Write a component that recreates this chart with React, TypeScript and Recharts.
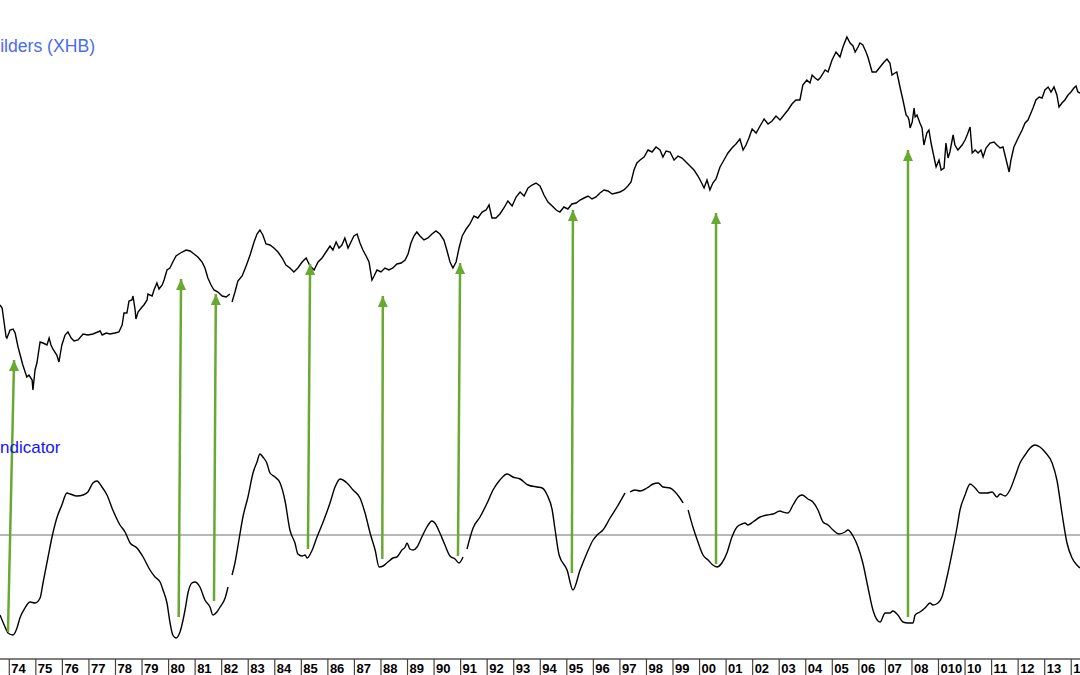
import React from 'react';
import { ComposedChart, Line, XAxis, YAxis, ReferenceLine } from 'recharts';

const YEARS = [1974,1975,1976,1977,1978,1979,1980,1981,1982,1983,1984,1985,1986,1987,1988,1989,1990,1991,1992,1993,1994,1995,1996,1997,1998,1999,2000,2001,2002,2003,2004,2005,2006,2007,2008,2009,2010,2011,2012,2013,2014];
const YEAR_LABELS = ['74','75','76','77','78','79','80','81','82','83','84','85','86','87','88','89','90','91','92','93','94','95','96','97','98','99','00','01','02','03','04','05','06','07','08','010','10','11','12','13','14'];

// Homebuilders price (arbitrary index units), [year, value]
const PRICE: [number, number | null][] = [
[1973.65,354],[1973.73,351],[1973.88,322],[1973.91,321],[1974.03,329],[1974.14,330],[1974.22,326],[1974.33,312],[1974.48,297],[1974.51,294],[1974.66,282],[1974.74,284],[1974.86,279],[1974.89,269],[1974.97,289],[1975.04,296],[1975.16,317],[1975.27,316],[1975.42,314],[1975.50,321],[1975.57,314],[1975.64,310],[1975.79,304],[1975.87,297],[1975.98,314],[1976.10,324],[1976.21,327],[1976.33,321],[1976.44,318],[1976.59,319],[1976.78,325],[1976.96,324],[1977.15,325],[1977.42,328],[1977.50,324],[1977.65,326],[1977.79,325],[1977.98,326],[1978.13,327],[1978.25,334],[1978.32,346],[1978.43,346],[1978.51,358],[1978.62,359],[1978.66,363],[1978.74,349],[1978.77,340],[1978.85,347],[1979.00,352],[1979.07,354],[1979.19,359],[1979.22,365],[1979.38,363],[1979.45,369],[1979.56,376],[1979.64,370],[1979.76,374],[1979.83,379],[1979.94,389],[1980.05,391],[1980.16,397],[1980.28,403],[1980.39,405],[1980.51,407],[1980.66,409],[1980.81,408],[1980.96,405],[1981.10,402],[1981.26,397],[1981.37,391],[1981.48,381],[1981.60,374],[1981.71,369],[1981.86,367],[1982.02,363],[1982.17,362],[1982.31,365],[1982.35,null],
[1982.39,357],[1982.50,367],[1982.61,378],[1982.77,383],[1982.92,393],[1983.07,404],[1983.22,417],[1983.33,425],[1983.44,429],[1983.55,424],[1983.67,415],[1983.82,414],[1983.97,411],[1984.12,407],[1984.28,401],[1984.42,394],[1984.57,391],[1984.72,387],[1984.87,391],[1985.03,397],[1985.18,401],[1985.33,393],[1985.48,389],[1985.63,397],[1985.78,401],[1985.93,407],[1986.08,413],[1986.19,409],[1986.31,417],[1986.42,411],[1986.53,414],[1986.64,421],[1986.76,411],[1986.87,417],[1986.98,423],[1987.10,425],[1987.21,416],[1987.32,409],[1987.44,403],[1987.55,397],[1987.66,379],[1987.74,383],[1987.85,389],[1988.00,387],[1988.15,391],[1988.30,389],[1988.45,391],[1988.60,395],[1988.76,396],[1988.91,399],[1989.02,405],[1989.13,416],[1989.24,423],[1989.35,427],[1989.47,423],[1989.62,419],[1989.77,421],[1989.92,425],[1990.07,428],[1990.22,425],[1990.37,419],[1990.48,409],[1990.60,397],[1990.71,391],[1990.83,397],[1990.94,411],[1991.06,423],[1991.21,430],[1991.35,435],[1991.50,443],[1991.65,441],[1991.81,447],[1991.96,449],[1992.07,454],[1992.18,441],[1992.33,441],[1992.48,445],[1992.63,451],[1992.78,458],[1992.94,453],[1993.09,462],[1993.24,467],[1993.39,463],[1993.54,471],[1993.69,474],[1993.84,476],[1993.99,473],[1994.14,464],[1994.29,457],[1994.45,453],[1994.60,449],[1994.74,447],[1994.89,452],[1995.04,450],[1995.19,455],[1995.35,456],[1995.50,459],[1995.65,461],[1995.80,463],[1995.95,460],[1996.10,462],[1996.25,466],[1996.40,469],[1996.55,468],[1996.71,465],[1996.86,466],[1997.00,467],[1997.15,469],[1997.30,473],[1997.42,477],[1997.53,489],[1997.64,496],[1997.76,499],[1997.91,502],[1998.06,509],[1998.21,507],[1998.36,512],[1998.51,509],[1998.62,502],[1998.74,508],[1998.89,507],[1999.04,499],[1999.19,503],[1999.34,501],[1999.49,497],[1999.64,493],[1999.79,489],[1999.94,483],[2000.06,477],[2000.17,471],[2000.28,479],[2000.39,469],[2000.50,476],[2000.62,480],[2000.77,492],[2000.92,499],[2001.07,506],[2001.22,511],[2001.37,515],[2001.52,520],[2001.64,509],[2001.75,514],[2001.86,521],[2001.98,530],[2002.13,526],[2002.28,533],[2002.43,540],[2002.58,535],[2002.73,538],[2002.88,543],[2003.03,539],[2003.18,544],[2003.33,549],[2003.48,555],[2003.63,559],[2003.78,559],[2003.89,574],[2004.04,579],[2004.16,576],[2004.24,584],[2004.35,581],[2004.46,579],[2004.54,581],[2004.73,589],[2004.84,587],[2004.99,599],[2005.14,607],[2005.29,602],[2005.40,612],[2005.55,622],[2005.67,616],[2005.78,613],[2005.86,607],[2005.97,612],[2006.04,616],[2006.15,614],[2006.27,607],[2006.34,602],[2006.50,587],[2006.65,587],[2006.80,592],[2006.95,597],[2007.06,600],[2007.17,596],[2007.25,584],[2007.36,586],[2007.43,587],[2007.55,572],[2007.66,559],[2007.78,544],[2007.85,542],[2007.89,539],[2007.93,531],[2008.01,537],[2008.08,551],[2008.12,542],[2008.19,544],[2008.30,536],[2008.38,531],[2008.45,514],[2008.56,526],[2008.64,529],[2008.72,516],[2008.83,502],[2008.91,492],[2009.02,499],[2009.10,489],[2009.21,491],[2009.28,516],[2009.36,501],[2009.43,507],[2009.55,524],[2009.62,514],[2009.73,509],[2009.89,514],[2010.00,519],[2010.08,524],[2010.19,532],[2010.27,506],[2010.38,509],[2010.49,506],[2010.60,509],[2010.68,502],[2010.79,511],[2010.94,516],[2011.09,517],[2011.20,514],[2011.32,511],[2011.43,512],[2011.55,499],[2011.66,487],[2011.73,499],[2011.84,512],[2012.00,521],[2012.15,529],[2012.26,536],[2012.37,539],[2012.45,544],[2012.56,551],[2012.67,559],[2012.79,562],[2012.90,561],[2013.01,569],[2013.13,572],[2013.24,567],[2013.35,572],[2013.46,564],[2013.54,552],[2013.65,556],[2013.76,559],[2013.88,564],[2013.99,567],[2014.10,571],[2014.18,573],[2014.25,567],[2014.33,566]
];

// Oscillator indicator, [year, value]
const INDICATOR: [number, number | null][] = [
[1973.65,-8.0],[1973.84,-9.2],[1973.95,-9.8],[1974.14,-10.0],[1974.29,-9.3],[1974.40,-8.3],[1974.59,-7.3],[1974.78,-6.7],[1974.97,-6.8],[1975.16,-6.3],[1975.27,-4.8],[1975.46,-2.2],[1975.61,-0.2],[1975.79,1.7],[1975.98,3.0],[1976.17,4.2],[1976.29,4.1],[1976.55,3.9],[1976.78,4.0],[1976.96,4.3],[1977.15,5.2],[1977.30,5.4],[1977.49,4.8],[1977.68,4.0],[1977.90,2.5],[1978.17,1.0],[1978.36,0.3],[1978.55,-0.8],[1978.81,-1.3],[1979.04,-2.2],[1979.30,-3.5],[1979.49,-4.2],[1979.68,-4.7],[1979.79,-5.5],[1979.94,-6.8],[1980.05,-8.7],[1980.16,-10.0],[1980.28,-10.3],[1980.43,-9.7],[1980.62,-7.5],[1980.73,-5.8],[1980.88,-4.8],[1980.99,-4.7],[1981.18,-5.2],[1981.37,-6.5],[1981.56,-7.2],[1981.67,-8.0],[1981.82,-7.7],[1981.94,-7.2],[1982.13,-6.3],[1982.24,-5.2],[1982.31,null],
[1982.39,-4.0],[1982.50,-2.8],[1982.65,-0.5],[1982.80,1.8],[1982.99,3.8],[1983.18,6.2],[1983.33,7.3],[1983.44,8.1],[1983.55,7.8],[1983.70,7.2],[1983.82,6.2],[1984.01,5.8],[1984.20,5.2],[1984.38,3.5],[1984.57,0.5],[1984.76,-0.8],[1984.87,-1.9],[1985.03,-2.1],[1985.14,-2.0],[1985.22,-2.3],[1985.41,-1.5],[1985.59,-0.2],[1985.82,1.3],[1986.08,3.2],[1986.27,4.8],[1986.46,5.6],[1986.72,5.2],[1986.95,4.5],[1987.21,3.7],[1987.40,2.2],[1987.59,0.2],[1987.78,-1.5],[1987.93,-3.2],[1988.08,-3.1],[1988.26,-2.7],[1988.45,-2.3],[1988.60,-2.2],[1988.79,-1.5],[1988.91,-1.2],[1988.98,-0.8],[1989.09,-1.4],[1989.21,-1.5],[1989.36,-1.2],[1989.54,-0.2],[1989.73,0.8],[1989.92,1.4],[1990.03,1.2],[1990.22,0.2],[1990.41,-1.0],[1990.60,-2.1],[1990.79,-2.4],[1990.94,-2.8],[1991.09,-2.2],[1991.15,null],
[1991.24,-1.4],[1991.47,0.7],[1991.73,1.8],[1992.00,3.2],[1992.22,4.5],[1992.48,5.5],[1992.75,6.1],[1992.97,5.8],[1993.24,5.6],[1993.54,5.0],[1993.88,4.8],[1994.07,4.7],[1994.26,4.0],[1994.45,2.5],[1994.56,0.5],[1994.71,-2.0],[1995.01,-3.5],[1995.23,-5.5],[1995.50,-3.5],[1995.76,-1.8],[1995.99,-0.5],[1996.14,0.0],[1996.36,0.5],[1996.63,1.7],[1996.89,2.8],[1997.19,4.2],[1997.28,null],
[1997.38,4.3],[1997.57,4.5],[1997.76,4.4],[1998.02,4.7],[1998.25,5.1],[1998.44,5.2],[1998.62,4.8],[1998.89,4.7],[1999.08,4.3],[1999.26,3.7],[1999.38,3.2],[1999.47,null],
[1999.57,2.5],[1999.75,0.8],[1999.94,-0.7],[2000.13,-2.0],[2000.32,-2.5],[2000.50,-3.0],[2000.65,-3.2],[2000.84,-2.8],[2001.03,-1.8],[2001.22,-0.2],[2001.41,0.8],[2001.60,1.1],[2001.71,1.2],[2001.82,1.0],[2002.01,1.3],[2002.28,1.8],[2002.54,2.0],[2002.77,2.1],[2003.03,2.4],[2003.14,2.3],[2003.33,2.2],[2003.52,3.0],[2003.71,3.8],[2003.86,4.0],[2004.08,3.6],[2004.27,3.3],[2004.46,2.5],[2004.65,1.3],[2004.84,1.0],[2005.03,0.5],[2005.25,0.1],[2005.48,0.3],[2005.59,0.5],[2005.78,-0.1],[2005.97,-1.2],[2006.15,-2.8],[2006.34,-5.2],[2006.53,-7.5],[2006.80,-8.7],[2006.99,-7.8],[2007.17,-7.8],[2007.28,-7.6],[2007.47,-8.0],[2007.66,-8.7],[2007.85,-8.8],[2008.04,-8.8],[2008.12,-8.0],[2008.30,-7.7],[2008.49,-7.3],[2008.68,-6.8],[2008.79,-7.0],[2008.98,-6.8],[2009.13,-6.2],[2009.32,-4.2],[2009.51,-1.8],[2009.70,0.8],[2009.81,2.5],[2010.00,4.0],[2010.19,5.1],[2010.38,4.7],[2010.56,4.2],[2010.83,4.2],[2011.02,4.3],[2011.20,3.8],[2011.32,4.1],[2011.51,3.9],[2011.69,4.5],[2011.88,5.8],[2012.07,7.2],[2012.26,8.0],[2012.45,8.7],[2012.63,9.0],[2012.82,8.8],[2013.01,8.3],[2013.28,7.2],[2013.46,5.5],[2013.65,2.2],[2013.84,-0.8],[2014.03,-2.3],[2014.25,-3.1],[2014.33,-3.3]
];

// Arrows: from indicator low (year, indicator value) up to price (year, price value)
const ARROW_FROM_YEAR = [1973.95, 1980.38, 1981.71, 1985.25, 1988.05, 1990.90, 1995.19, 2000.62, 2007.85];
const ARROW_FROM_IND = [-9.7, -8.2, -6.6, -1.4, -2.4, -2.1, -3.8, -2.9, -8.2];
const ARROW_TO_YEAR = [1974.18, 1980.47, 1981.78, 1985.33, 1988.07, 1990.98, 1995.23, 2000.62, 2007.85];
const ARROW_TO_PRICE = [299, 380, 365, 395, 363, 396, 449, 446, 509];

const PRICE_DOMAIN: [number, number] = [0, 659];
const IND_DOMAIN: [number, number] = [-12.4, 53.5];
const X_DOMAIN: [number, number] = [1973.65, 2014.33];

const GREEN = '#69a932';
const FONT = '"Liberation Sans", Arial, sans-serif';

const priceToInd = (p: number) =>
  IND_DOMAIN[0] + ((p - PRICE_DOMAIN[0]) / (PRICE_DOMAIN[1] - PRICE_DOMAIN[0])) * (IND_DOMAIN[1] - IND_DOMAIN[0]);

const priceData = PRICE.map(([t, v]) => ({ t, price: v }));
const indData = INDICATOR.map(([t, v]) => ({ t, ind: v }));
const arrowData = ARROW_FROM_YEAR.map((t, i) => [
  { t, a: ARROW_FROM_IND[i] },
  { t: ARROW_TO_YEAR[i], a: priceToInd(ARROW_TO_PRICE[i]) },
]);

const YearTick = (props: any) => {
  const { x, y, payload } = props;
  const i = YEARS.indexOf(payload.value);
  return (
    <g>
      <line x1={x} x2={x} y1={y} y2={y + 16} stroke="#444" strokeWidth={1.2} />
      <text x={x + 2} y={y + 13.5} fontSize={13} fontWeight="bold" fontFamily={FONT} fill="#000" textAnchor="start">
        {YEAR_LABELS[i]}
      </text>
    </g>
  );
};

const arrowHead = (props: any) => {
  const { cx, cy, index } = props;
  if (index !== 1 || cx == null || cy == null) return <g key={`ah-${index}`} />;
  return <polygon key={`ah-${index}`} points={`${cx},${cy} ${cx - 5},${cy + 11} ${cx + 5},${cy + 11}`} fill={GREEN} />;
};

export default function App() {
  return (
    <div style={{ position: 'absolute', left: 0, top: 0, width: 1080, height: 675, background: '#fff', overflow: 'hidden' }}>
      <ComposedChart width={1080} height={675} margin={{ top: 0, right: 0, bottom: 0, left: 0 }}>
        <XAxis
          type="number"
          dataKey="t"
          domain={X_DOMAIN}
          allowDataOverflow
          ticks={YEARS}
          interval={0}
          height={16}
          tickSize={0}
          tickMargin={0}
          tickLine={false}
          axisLine={{ stroke: '#000', strokeWidth: 1 }}
          tick={<YearTick />}
        />
        <YAxis yAxisId="price" hide domain={PRICE_DOMAIN} allowDataOverflow />
        <YAxis yAxisId="ind" hide domain={IND_DOMAIN} allowDataOverflow />
        <ReferenceLine yAxisId="ind" y={0} stroke="#a0a0a0" strokeWidth={1.5} />
        <Line yAxisId="price" data={priceData} dataKey="price" type="linear" stroke="#000" strokeWidth={1.4} dot={false} activeDot={false} isAnimationActive={false} />
        <Line yAxisId="ind" data={indData} dataKey="ind" type="monotone" stroke="#000" strokeWidth={1.4} dot={false} activeDot={false} isAnimationActive={false} />
        {arrowData.map((d, i) => (
          <Line
            key={`arrow-${i}`}
            yAxisId="ind"
            data={d}
            dataKey="a"
            type="linear"
            stroke={GREEN}
            strokeWidth={2.5}
            dot={arrowHead}
            activeDot={false}
            isAnimationActive={false}
          />
        ))}
      </ComposedChart>
      <div style={{ position: 'absolute', left: 0, top: 38.2, width: 95, textAlign: 'right', fontFamily: FONT, fontSize: 17.6, lineHeight: '17.6px', color: '#4a6cf4', whiteSpace: 'nowrap' }}>
        ilders (XHB)
      </div>
      <div style={{ position: 'absolute', left: 0, top: 439, width: 60, textAlign: 'right', fontFamily: FONT, fontSize: 17, lineHeight: '17px', color: '#1414ff', whiteSpace: 'nowrap' }}>
        ndicator
      </div>
    </div>
  );
}
